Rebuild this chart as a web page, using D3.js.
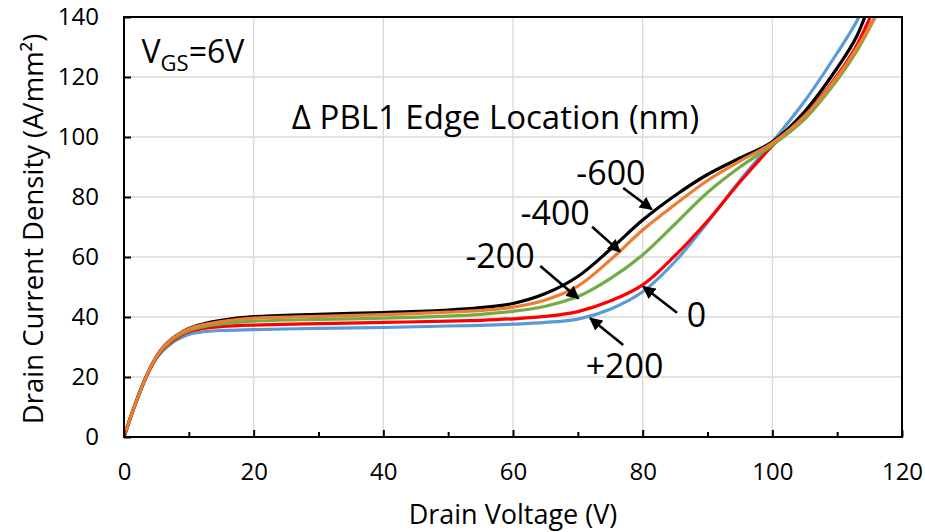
<!DOCTYPE html>
<html>
<head>
<meta charset="utf-8">
<script src="https://cdn.jsdelivr.net/npm/d3@7"></script>
<style>
body { margin: 0; background: #fff; }
text { font-family: "Open Sans", sans-serif; fill: #000; }
</style>
</head>
<body>
<div id="chart"></div>
<script>
// drain voltage (V), shared by every curve
var voltage = [0, 1, 2, 3, 4, 5, 6, 7, 8, 10, 12, 15, 20, 30, 40, 50, 55, 60, 65, 70, 75, 80, 85, 90, 95, 100, 105, 110, 113, 116, 118];

// drain current density (A/mm2) for each PBL1 edge shift
var jMinus600 = [0, 6.5, 12.5, 18, 22.8, 26.8, 29.8, 32, 33.7, 36.2, 37.6, 38.9, 40.1, 40.9, 41.5, 42.3, 43.1, 44.5, 47.8, 53.5, 62.5, 72.3, 80.5, 87.5, 93, 98.4, 108.5, 123, 133.5, 150, 160];
var jMinus400 = [0, 6.5, 12.5, 18, 22.8, 26.8, 29.7, 31.9, 33.6, 36, 37.3, 38.5, 39.6, 40.2, 40.8, 41.6, 42.2, 43.3, 45.7, 50.3, 59, 69, 77.5, 85.5, 92, 98, 107, 120, 129.5, 140.5, 148];
var jMinus200 = [0, 6.5, 12.5, 18, 22.7, 26.6, 29.4, 31.5, 33.2, 35.5, 36.7, 37.7, 38.6, 39.2, 39.6, 40.3, 40.9, 41.9, 43.6, 46.8, 52.8, 60.7, 71, 81.5, 90, 97.3, 106, 119, 128.5, 140.5, 149];
var jZero = [0, 6.5, 12.5, 18, 22.7, 26.5, 29.2, 31.2, 32.8, 35.1, 36.1, 36.8, 37.3, 37.8, 38.2, 38.6, 38.9, 39.4, 40.2, 41.8, 45.3, 50.7, 60.5, 72, 85, 97, 107, 120.5, 130.5, 144, 152];
var jPlus200 = [0, 6.5, 12.5, 18, 22.5, 26.2, 28.8, 30.7, 32.2, 34.2, 35, 35.5, 35.8, 36.2, 36.5, 37, 37.2, 37.6, 38.2, 39.3, 42.6, 48.4, 58.5, 71.5, 85.5, 98.3, 112, 128, 138.5, 152, 160];

var xTicks = [0, 20, 40, 60, 80, 100, 120];
var xMinorTicks = [10, 30, 50, 70, 90, 110];
var yTicks = [0, 20, 40, 60, 80, 100, 120, 140];

// label text, its baseline anchor, and its arrow (data units)
var labelText = ["-600", "-400", "-200", "0", "+200"];
var labelPos = [[75.1, 84.0], [66.5, 70.7], [58.0, 56.2], [88.3, 36.8], [77.2, 19.6]];
var arrowFrom = [[77.0, 83.0], [72.2, 70.1], [64.2, 57.0], [85.3, 41.4], [77.0, 30.7]];
var arrowTo = [[81.4, 75.9], [76.5, 61.8], [70.1, 46.2], [80.1, 50.1], [71.9, 39.6]];

var series = [
  { values: jPlus200, color: "#5B9BD5" },
  { values: jZero, color: "#FF0000" },
  { values: jMinus200, color: "#70AD47" },
  { values: jMinus600, color: "#000000" },
  { values: jMinus400, color: "#ED7D31" }
];

var width = 925, height = 532;
var margin = { top: 17, right: 23, bottom: 95, left: 124 };
var w = width - margin.left - margin.right;
var h = height - margin.top - margin.bottom;

var svg = d3.select("#chart").append("svg")
    .attr("width", width)
    .attr("height", height);

var g = svg.append("g").attr("transform", "translate(" + margin.left + "," + margin.top + ")");

var x = d3.scaleLinear().domain([0, 120]).range([0, w]);
var y = d3.scaleLinear().domain([0, 140]).range([h, 0]);

// gridlines
g.append("g").selectAll("line").data(xTicks.slice(1, -1)).enter().append("line")
    .attr("x1", function(d) { return x(d); }).attr("x2", function(d) { return x(d); })
    .attr("y1", 0).attr("y2", h)
    .attr("stroke", "#d9d9d9").attr("stroke-width", 1.3);
g.append("g").selectAll("line").data(yTicks.slice(1, -1)).enter().append("line")
    .attr("y1", function(d) { return y(d); }).attr("y2", function(d) { return y(d); })
    .attr("x1", 0).attr("x2", w)
    .attr("stroke", "#d9d9d9").attr("stroke-width", 1.3);

// curves
g.append("clipPath").attr("id", "clip").append("rect").attr("width", w).attr("height", h);

var line = d3.line()
    .x(function(d, i) { return x(voltage[i]); })
    .y(function(d) { return y(d); })
    .curve(d3.curveCatmullRom.alpha(0.5));

g.append("g").attr("clip-path", "url(#clip)")
  .selectAll("path").data(series).enter().append("path")
    .attr("d", function(s) { return line(s.values); })
    .attr("fill", "none")
    .attr("stroke", function(s) { return s.color; })
    .attr("stroke-width", 3.2)
    .attr("stroke-linejoin", "round");

// frame
g.append("rect").attr("width", w).attr("height", h)
    .attr("fill", "none").attr("stroke", "#000").attr("stroke-width", 2);

// axes
var xAxis = g.append("g").attr("transform", "translate(0," + h + ")")
    .call(d3.axisBottom(x).tickValues(xTicks).tickSizeInner(-7).tickSizeOuter(0).tickPadding(26));
var xMinor = g.append("g").attr("transform", "translate(0," + h + ")")
    .call(d3.axisBottom(x).tickValues(xMinorTicks).tickSizeInner(-5).tickSizeOuter(0).tickFormat(""));
var yAxis = g.append("g")
    .call(d3.axisLeft(y).tickValues(yTicks).tickSizeInner(-7).tickSizeOuter(0).tickPadding(25));

[xAxis, xMinor, yAxis].forEach(function(a) {
  a.select(".domain").remove();
  a.selectAll(".tick line").attr("stroke", "#000").attr("stroke-width", 2);
  a.selectAll("text").style("font-family", '"Open Sans", sans-serif').style("font-size", "24px").attr("fill", "#000");
});

// axis titles
svg.append("text")
    .attr("x", margin.left + w / 2).attr("y", 524)
    .attr("text-anchor", "middle")
    .style("font-size", "27px")
    .text("Drain Voltage (V)");

svg.append("text")
    .attr("transform", "translate(43," + (margin.top + h / 2 + 2) + ") rotate(-90)")
    .attr("text-anchor", "middle")
    .style("font-size", "27.5px")
    .text("Drain Current Density (A/mm²)");

// in-plot text
var vgs = g.append("text").attr("x", x(2.7)).attr("y", y(124.6)).style("font-size", "32px");
vgs.append("tspan").text("V");
vgs.append("tspan").attr("dy", 8).style("font-size", "22px").text("GS");
vgs.append("tspan").attr("dy", -8).text("=6V");

g.append("text")
    .attr("x", x(57.3)).attr("y", y(102.6))
    .attr("text-anchor", "middle")
    .style("font-size", "33px")
    .text("Δ PBL1 Edge Location (nm)");

// annotation arrows
svg.append("defs").append("marker")
    .attr("id", "head").attr("viewBox", "0 0 10 10")
    .attr("refX", 9).attr("refY", 5)
    .attr("markerWidth", 5).attr("markerHeight", 5)
    .attr("orient", "auto")
  .append("path").attr("d", "M0,0 L10,5 L0,10 z").attr("fill", "#000");

g.append("g").selectAll("line").data(labelText).enter().append("line")
    .attr("x1", function(d, i) { return x(arrowFrom[i][0]); })
    .attr("y1", function(d, i) { return y(arrowFrom[i][1]); })
    .attr("x2", function(d, i) { return x(arrowTo[i][0]); })
    .attr("y2", function(d, i) { return y(arrowTo[i][1]); })
    .attr("stroke", "#000").attr("stroke-width", 2.6)
    .attr("marker-end", "url(#head)");

g.append("g").selectAll("text").data(labelText).enter().append("text")
    .attr("x", function(d, i) { return x(labelPos[i][0]); })
    .attr("y", function(d, i) { return y(labelPos[i][1]); })
    .attr("text-anchor", "middle")
    .style("font-size", "34px")
    .text(function(d) { return d; });
</script>
</body>
</html>
